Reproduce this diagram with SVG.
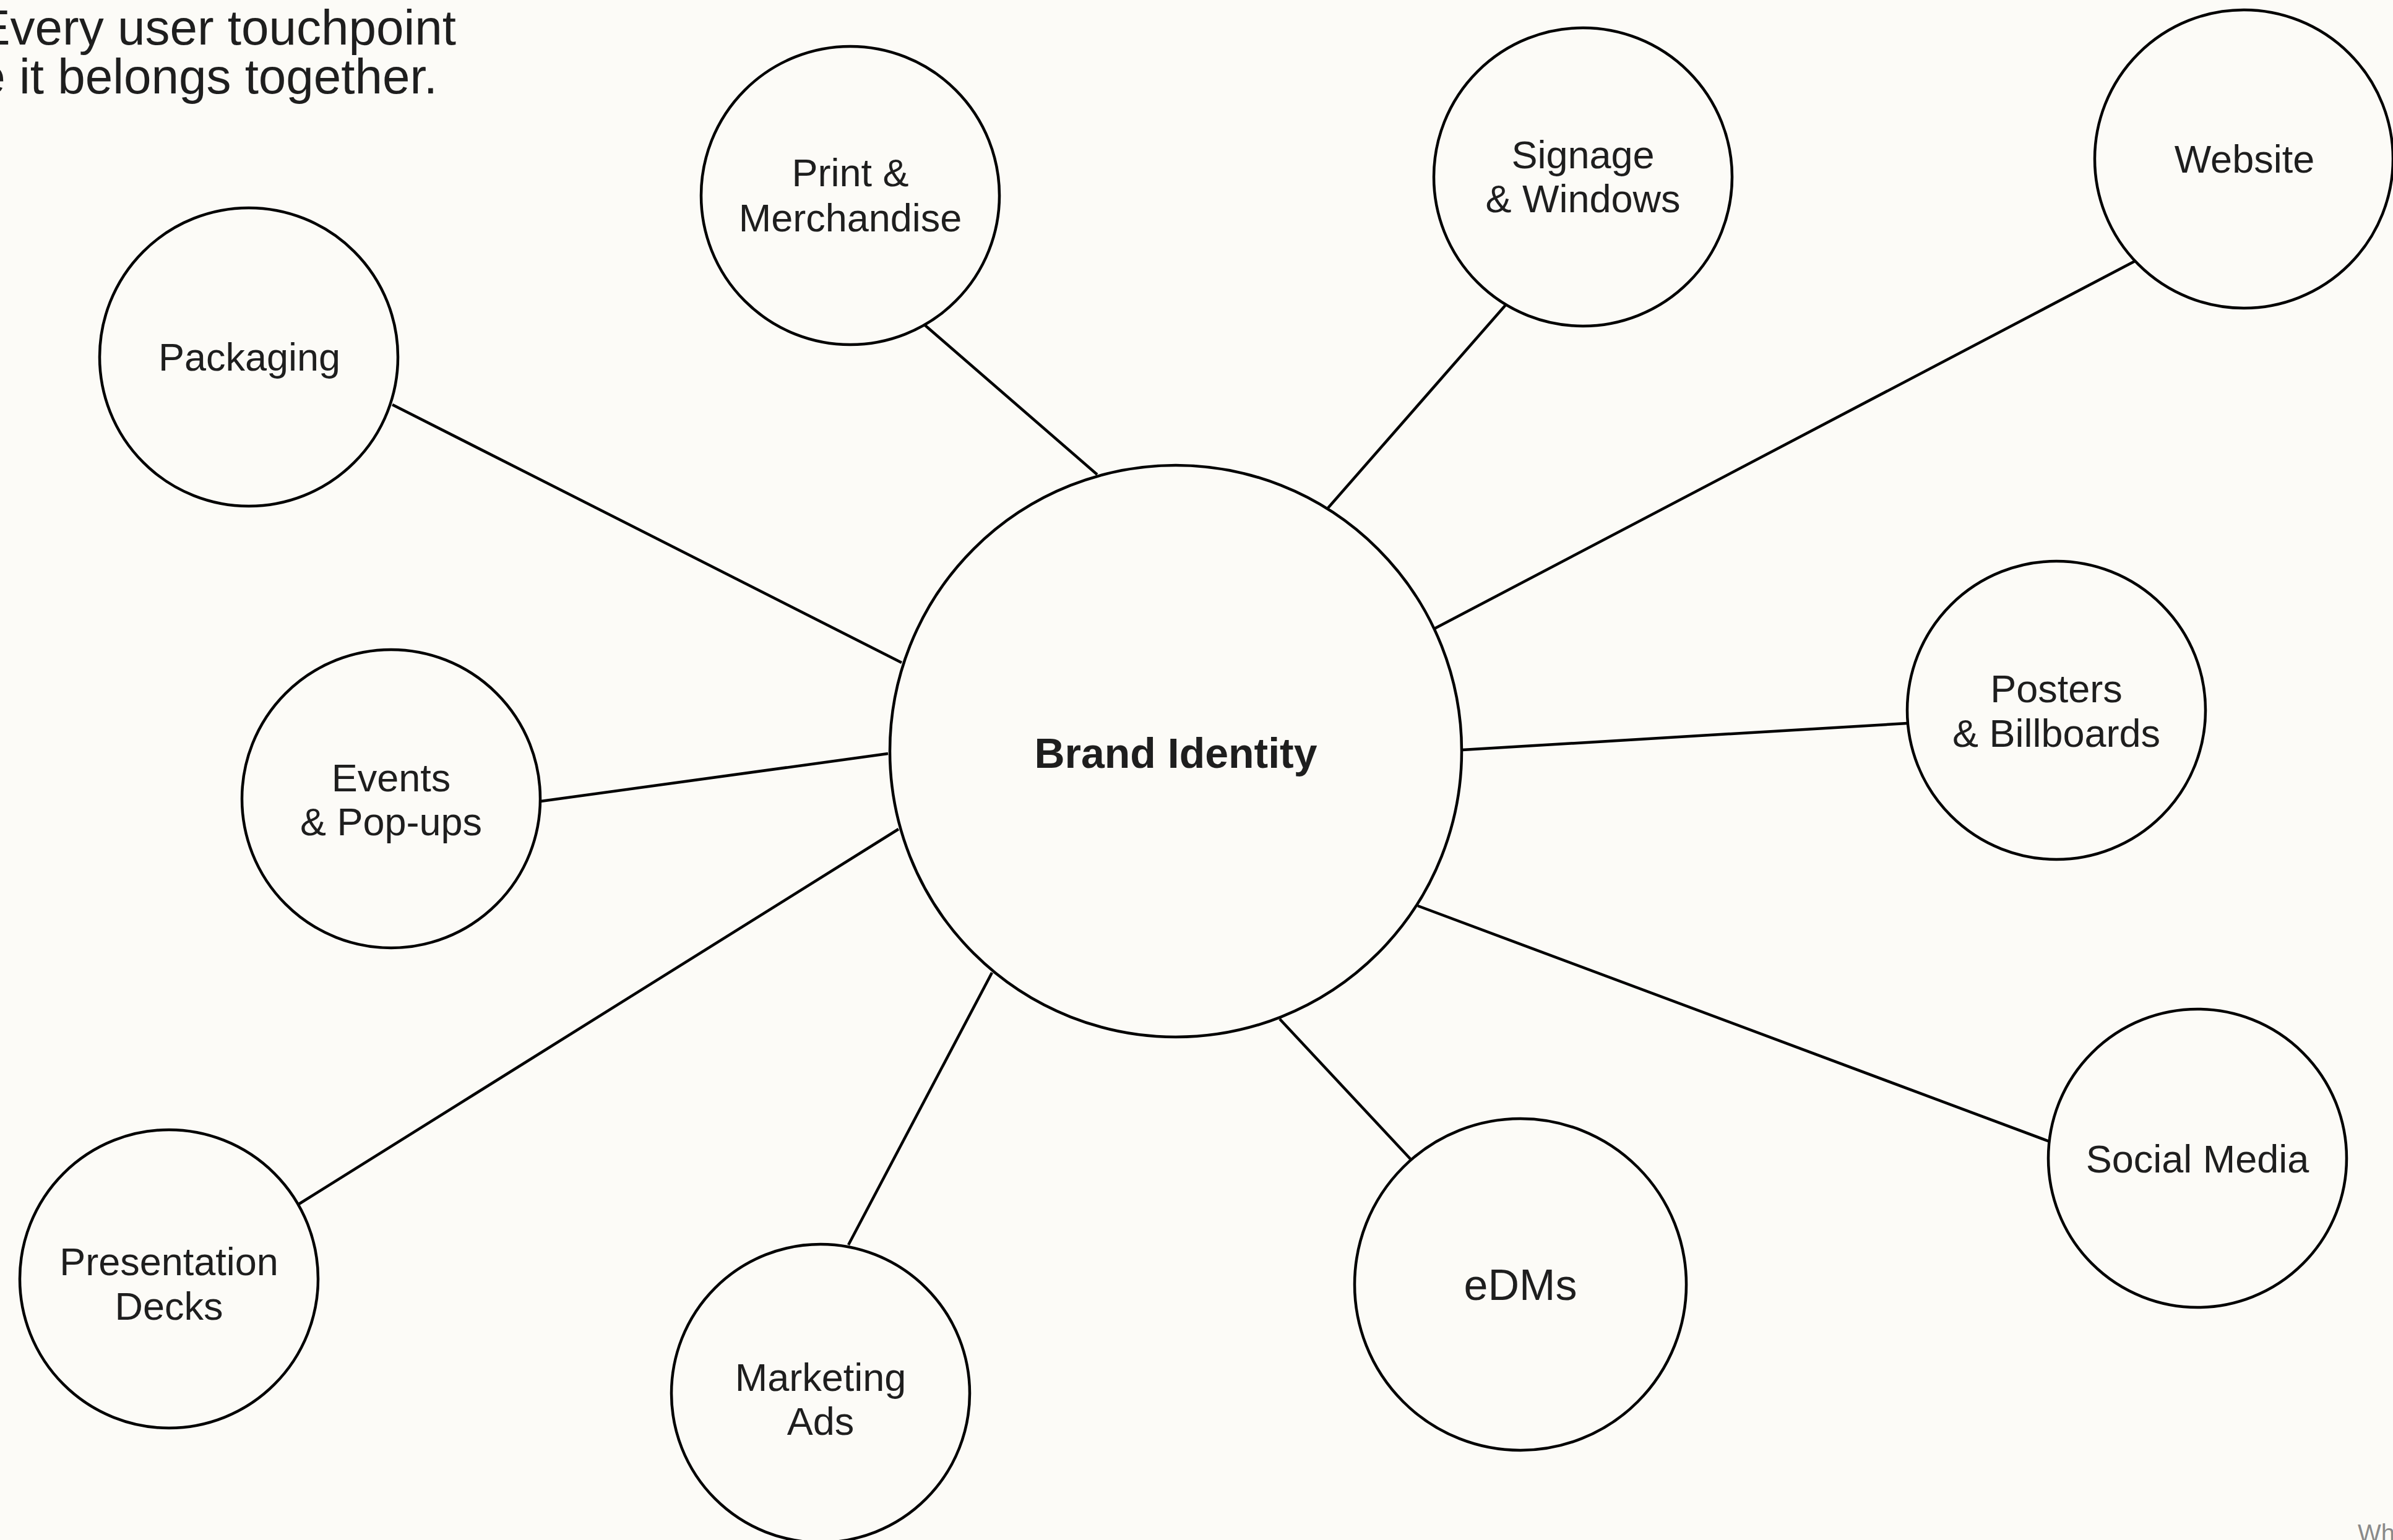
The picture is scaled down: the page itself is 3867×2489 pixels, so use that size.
<svg xmlns="http://www.w3.org/2000/svg" width="3867" height="2489" viewBox="0 0 3867 2489">
<style>
.bg{fill:#FCFBF7}
.node{fill:#FCFBF7;stroke:#000;stroke-width:4.5}
.edge{stroke:#000;stroke-width:4.5;fill:none}
.lbl{font-family:"Liberation Sans",Arial,sans-serif;font-size:63px;fill:#1E1E1E;text-anchor:middle}
.hub{font-family:"Liberation Sans",Arial,sans-serif;font-size:68px;font-weight:bold;fill:#1E1E1E;text-anchor:middle}
.intro{font-family:"Liberation Sans",Arial,sans-serif;font-size:80px;fill:#1E1E1E;text-anchor:end}
.foot{font-family:"Liberation Sans",Arial,sans-serif;font-size:40px;fill:#8A8A8A}
</style>
<rect class="bg" x="0" y="0" width="3867" height="2489"/>
<g id="intro">
<text class="intro" x="737" y="72">Every user touchpoint</text>
<text class="intro" x="707" y="151">e it belongs together.</text>
</g>
<g id="connectors">
<line class="edge" x1="634" y1="654" x2="1457" y2="1071"/>
<line class="edge" x1="1494" y1="525" x2="1773" y2="767"/>
<line class="edge" x1="2433" y1="493" x2="2146" y2="821"/>
<line class="edge" x1="3450" y1="422" x2="2318" y2="1016"/>
<line class="edge" x1="3082" y1="1169" x2="2363" y2="1212"/>
<line class="edge" x1="3312" y1="1845" x2="2291" y2="1464"/>
<line class="edge" x1="2279" y1="1873" x2="2068" y2="1647"/>
<line class="edge" x1="1371" y1="2012" x2="1603" y2="1572"/>
<line class="edge" x1="483" y1="1946" x2="1452" y2="1340"/>
<line class="edge" x1="874" y1="1295" x2="1435" y2="1218"/>
</g>
<g id="brand-identity">
<circle class="node" cx="1900" cy="1214" r="462"/>
<text class="hub" x="1900" y="1241">Brand Identity</text>
</g>
<g id="packaging">
<circle class="node" cx="402" cy="577" r="241"/>
<text class="lbl" x="403" y="599">Packaging</text>
</g>
<g id="print-merchandise">
<circle class="node" cx="1374" cy="316" r="241"/>
<text class="lbl" x="1374" y="301">Print &amp;</text>
<text class="lbl" x="1374" y="374">Merchandise</text>
</g>
<g id="signage-windows">
<circle class="node" cx="2558" cy="286" r="241"/>
<text class="lbl" x="2558" y="272">Signage</text>
<text class="lbl" x="2558" y="343">&amp; Windows</text>
</g>
<g id="website">
<circle class="node" cx="3626" cy="257" r="241"/>
<text class="lbl" x="3627" y="279">Website</text>
</g>
<g id="events-popups">
<circle class="node" cx="632" cy="1291" r="241"/>
<text class="lbl" x="632" y="1279">Events</text>
<text class="lbl" x="632" y="1350">&amp; Pop-ups</text>
</g>
<g id="posters-billboards">
<circle class="node" cx="3323" cy="1148" r="241"/>
<text class="lbl" x="3323" y="1135">Posters</text>
<text class="lbl" x="3323" y="1207">&amp; Billboards</text>
</g>
<g id="presentation-decks">
<circle class="node" cx="273" cy="2067" r="241"/>
<text class="lbl" x="273" y="2061">Presentation</text>
<text class="lbl" x="273" y="2133">Decks</text>
</g>
<g id="marketing-ads">
<circle class="node" cx="1326" cy="2252" r="241"/>
<text class="lbl" x="1326" y="2248">Marketing</text>
<text class="lbl" x="1326" y="2319">Ads</text>
</g>
<g id="edms">
<circle class="node" cx="2457" cy="2076" r="268"/>
<text class="lbl" x="2457" y="2101" style="font-size:70px">eDMs</text>
</g>
<g id="social-media">
<circle class="node" cx="3551" cy="1872" r="241"/>
<text class="lbl" x="3551" y="1895">Social Media</text>
</g>
<text class="foot" x="3810" y="2492">Wh</text>
</svg>
